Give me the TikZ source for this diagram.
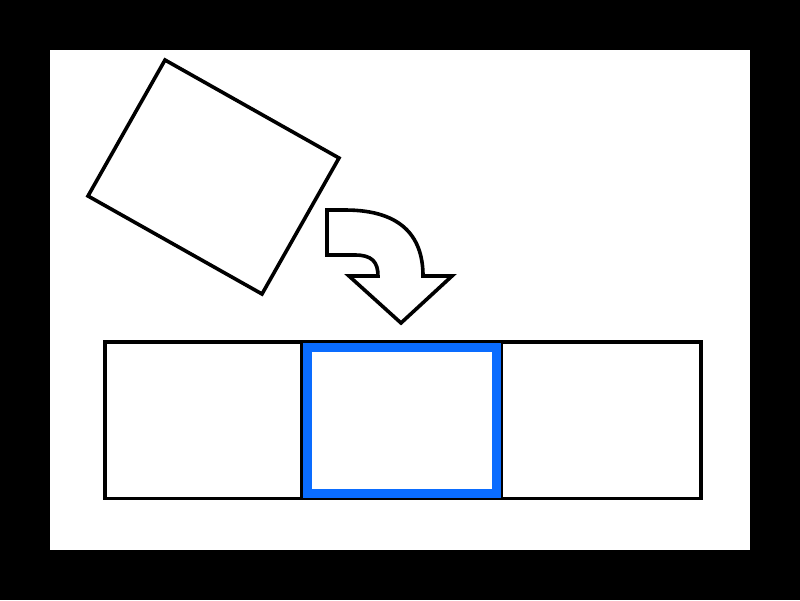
\documentclass[tikz,border=0pt]{standalone}
\definecolor{selblue}{RGB}{10,108,255}
\tikzset{
  outlined/.style={draw=black, line width=3.6pt, fill=white, line join=miter},
  sel/.style={draw=selblue, line width=8.7pt, line join=miter}
}
\begin{document}
\begin{tikzpicture}[x=1pt,y=-1pt]
\useasboundingbox (0,0) rectangle (800,600);
\fill[black] (0,0) rectangle (800,600);
\fill[white] (49.5,49.5) rectangle (750,550);
% tilted card
\draw[outlined] (165,60) -- (339,158) -- (262,294) -- (88,196) -- cycle;
% curved arrow
\draw[outlined] (327,210) -- (345,210) .. controls (405,210) and (423,240) .. (423,276)
  -- (452,276) -- (401,323) -- (349,276) -- (378,276)
  .. controls (378,262) and (372,255) .. (355,255) -- (327,255) -- cycle;
% slots
\draw[outlined] (104.7,342) rectangle (701,498.5);
\draw[outlined] (302,342) -- (302,498.5);
\draw[outlined] (501.5,342) -- (501.5,498.5);
% selected slot
\draw[sel] (307.7,347.7) rectangle (496.3,493.8);
\end{tikzpicture}
\end{document}
